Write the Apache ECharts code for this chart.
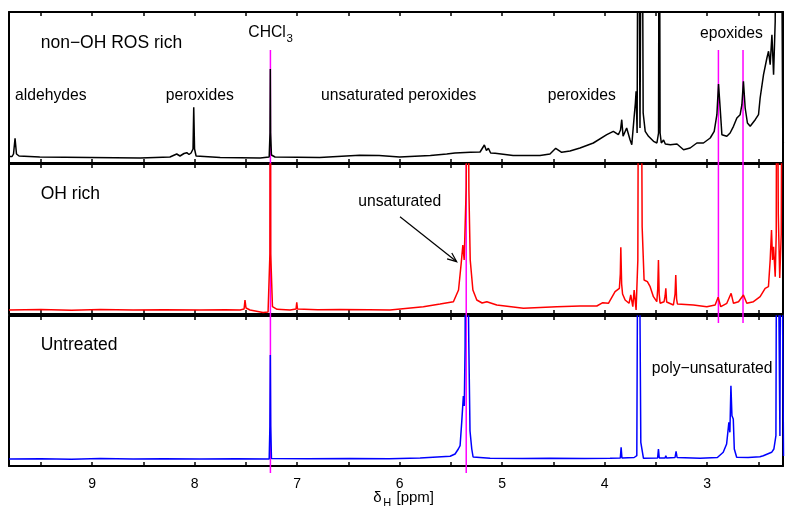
<!DOCTYPE html>
<html>
<head>
<meta charset="utf-8">
<script src="https://cdn.jsdelivr.net/npm/echarts@6/dist/echarts.min.js"></script>
<style>
  html, body { margin: 0; padding: 0; background: #fff; }
  #chart { width: 785px; height: 514px; }
</style>
</head>
<body>
<div id="chart"></div>
<script>
// 1H NMR spectra: [chemical shift (ppm), intensity (a.u.)]; intensities above the
// panel range are clipped at the panel top.
const nonOhRos = [
  [9.81,6.5],[9.78,6.5],[9.766,9],[9.751,24.7],[9.737,9],[9.712,7],[9.51,6],[9.02,5.5],
  [8.53,5],[8.24,6],[8.174,9],[8.142,7],[8.103,9.5],[8.076,10.3],[8.054,8.5],[8.034,10],
  [8.015,14],[8.008,55.7],[8.0,14],[7.985,7],[7.75,5.5],[7.36,5],[7.272,6],[7.264,30],
  [7.261,94],[7.258,30],[7.25,8],[7.215,6],[6.78,5.5],[6.39,7.7],[6.2,7.5],[6.0,6],
  [5.70,7.5],[5.54,9],[5.46,10],[5.31,10.7],[5.215,11],[5.173,18],[5.153,12.5],[5.134,14.7],
  [5.112,10],[5.068,9.7],[4.893,7.5],[4.63,7.5],[4.533,9],[4.477,14.7],[4.419,10.7],[4.338,12],
  [4.24,15],[4.11,20],[3.979,28.3],[3.915,31.7],[3.866,28.3],[3.845,33],[3.833,43.3],[3.82,26.7],
  [3.785,35],[3.752,23.3],[3.735,18.3],[3.713,45],[3.70,60],[3.693,71.7],[3.683,30],[3.672,400],
  [3.655,35],[3.637,400],[3.624,50],[3.604,31.7],[3.572,26.7],[3.523,21.7],[3.49,20],[3.474,30],
  [3.467,400],[3.459,30],[3.447,20],[3.425,23],[3.408,19],[3.359,18.3],[3.294,19],[3.23,13.3],
  [3.166,15],[3.10,20],[3.036,20],[2.97,25],[2.931,31.7],[2.905,48.3],[2.889,79],[2.873,55],
  [2.856,28.3],[2.808,26.7],[2.776,30],[2.743,36.7],[2.71,45],[2.678,48.3],[2.661,58.3],[2.646,81.7],
  [2.629,55],[2.607,40],[2.58,36.7],[2.531,43.3],[2.499,48.3],[2.483,65],[2.45,88.3],[2.417,105],
  [2.401,111.7],[2.385,98.3],[2.368,128.3],[2.352,88.3],[2.336,141.7],[2.326,400],[2.313,400],
  [2.296,200],[2.282,400],[2.266,400],[2.262,22],[2.255,20]
];

const ohRich = [
  [9.81,4],[9.5,4.5],[9.2,3.8],[8.92,4.5],[8.6,4],[8.3,4.3],[7.947,4],[7.7,4.2],[7.556,4],
  [7.517,5],[7.508,14],[7.498,6],[7.459,4],[7.332,1.5],[7.283,2],[7.265,60],[7.261,400],
  [7.257,60],[7.24,7.3],[7.195,4.7],[7.068,4],[7.01,5],[7.003,11.7],[6.996,5],[6.8,4.3],
  [6.581,4.5],[6.3,4.2],[6.093,4],[5.768,7.3],[5.605,10],[5.475,12.3],[5.425,24],[5.399,50.7],
  [5.383,69],[5.37,54],[5.35,127.3],[5.337,400],[5.324,124],[5.311,54],[5.285,24],[5.247,14],
  [5.195,11],[5.149,12.3],[5.052,9],[4.792,5.7],[4.467,7.3],[4.239,8],[4.076,8],[4.018,11.3],
  [3.963,10.7],[3.898,22.3],[3.856,25.7],[3.847,40],[3.842,66.7],[3.834,30],[3.825,20],[3.8,14],
  [3.784,15.7],[3.762,10.7],[3.745,19],[3.725,7.3],[3.712,24],[3.693,4],[3.676,54],[3.667,400],
  [3.647,400],[3.634,87.3],[3.615,34],[3.583,32.3],[3.556,27.3],[3.524,17.3],[3.491,12.3],
  [3.482,25],[3.475,54],[3.468,20],[3.459,10.7],[3.42,12.3],[3.41,18],[3.403,25.7],[3.395,12],
  [3.388,10.7],[3.329,9],[3.313,20],[3.306,39],[3.298,15],[3.29,10],[3.134,9],[3.003,7.3],
  [2.922,9],[2.893,16.7],[2.867,7.3],[2.808,10.7],[2.766,20.7],[2.743,10.7],[2.694,12.3],
  [2.646,19],[2.613,10.7],[2.548,12.3],[2.483,17.3],[2.434,25.7],[2.402,27.3],[2.385,54],
  [2.372,84],[2.362,54],[2.352,67.3],[2.336,37.3],[2.326,80],[2.319,400],[2.306,100],
  [2.292,36],[2.277,80],[2.267,400],[2.255,400]
];

const untreated = [
  [9.81,7],[9.5,7.3],[9.2,6.8],[8.92,7.5],[8.6,7],[8.3,7.2],[7.947,7],[7.6,7.3],[7.272,7],
  [7.265,40],[7.261,111],[7.257,40],[7.25,7.5],[6.9,7.2],[6.483,7.5],[6.1,7.3],[5.8,8],
  [5.507,9.7],[5.459,12],[5.427,17],[5.41,20.3],[5.394,43.7],[5.378,70],[5.369,60],[5.361,120],
  [5.352,400],[5.337,400],[5.325,123.7],[5.313,35],[5.296,17],[5.283,9],[5.117,7.7],[4.8,7.5],
  [4.532,7.7],[4.2,7.4],[3.947,7.7],[3.847,8],[3.839,18.7],[3.831,8],[3.712,8.5],[3.686,10.3],
  [3.671,400],[3.659,400],[3.647,23.7],[3.621,7.7],[3.483,8],[3.475,17],[3.467,8],[3.41,8],
  [3.403,10.3],[3.395,8],[3.313,8.5],[3.303,14.7],[3.293,8.5],[3.069,7.7],[2.9,8.5],[2.843,13.7],
  [2.81,22],[2.788,43.7],[2.778,33.7],[2.768,80.3],[2.758,50.3],[2.745,47],[2.735,17],[2.712,8.7],
  [2.6,8.5],[2.485,9.3],[2.452,10.3],[2.371,13.7],[2.349,17],[2.329,30.3],[2.319,400],[2.30,400],
  [2.29,30],[2.28,400],[2.263,400],[2.255,10]
];

const panelTitles = ['non\u2212OH ROS rich', 'OH rich', 'Untreated'];
const seriesColors = ['#000000', '#ff0000', '#0000ff'];
const refShifts = [7.26, 5.35, 2.89, 2.65];       // CHCl3, olefinic H, epoxide H
const tickValues = [2.5, 3, 3.5, 4, 4.5, 5, 5.5, 6, 6.5, 7, 7.5, 8, 8.5, 9, 9.5];
const labelValues = [3, 4, 5, 6, 7, 8, 9];
const ppmMin = 2.26, ppmMax = 9.81;

const FONT = '"Liberation Sans", Arial, sans-serif';
const spectra = [nonOhRos, ohRich, untreated];

// stacked panel layout
const panels = [
  { top: 12, height: 151 },
  { top: 164, height: 150 },
  { top: 316, height: 150 }
];
const plotLeft = 9, plotWidth = 774;

const grid = panels.map(p => ({ left: plotLeft, width: plotWidth, top: p.top, height: p.height }));
grid.push({ left: plotLeft, width: plotWidth, top: 0, height: 514 }); // overlay for reference lines

const frame = { show: true, onZero: false, lineStyle: { color: '#000', width: 2 } };
const xAxis = [], yAxis = [];
panels.forEach((p, i) => {
  ['bottom', 'top'].forEach(pos => {
    xAxis.push({
      type: 'value', gridIndex: i, position: pos, min: ppmMin, max: ppmMax, inverse: true,
      axisLine: frame,
      axisTick: { show: true, inside: true, length: 4, customValues: tickValues,
                  lineStyle: { color: '#000', width: 1.5 } },
      axisLabel: { show: i === 2 && pos === 'bottom', customValues: labelValues,
                   color: '#000', fontSize: 14, fontFamily: FONT, margin: 11 },
      splitLine: { show: false }, minorTick: { show: false }
    });
  });
  ['left', 'right'].forEach(pos => {
    yAxis.push({
      type: 'value', gridIndex: i, position: pos, min: 0, max: p.height,
      axisLine: frame, axisTick: { show: false }, axisLabel: { show: false },
      splitLine: { show: false }
    });
  });
});
xAxis.push({ type: 'value', gridIndex: 3, min: ppmMin, max: ppmMax, inverse: true, show: false });
yAxis.push({ type: 'value', gridIndex: 3, min: 0, max: 514, inverse: true, show: false });

const series = spectra.map((d, i) => ({
  type: 'line', name: panelTitles[i], xAxisIndex: 2 * i, yAxisIndex: 2 * i, data: d,
  symbol: 'none', showSymbol: false, clip: true, z: 5,
  lineStyle: { color: seriesColors[i], width: 1.5 }
}));

// vertical extents (page px) of each reference line across the stacked panels
const refSpan = { 7.26: [50, 473], 5.35: [164, 473], 2.89: [50, 323], 2.65: [50, 323] };
refShifts.forEach(s => {
  series.push({
    type: 'line', xAxisIndex: 6, yAxisIndex: 6, symbol: 'none', z: 1, silent: true,
    data: [[s, refSpan[s][0]], [s, refSpan[s][1]]],
    lineStyle: { color: '#ff00ff', width: 1.5 }
  });
});

function label(text, x, baseline, size) {
  return {
    type: 'text', x: x, y: baseline - 0.35 * size, silent: true, z: 10,
    style: { text: text, font: size + 'px ' + FONT, fill: '#000', align: 'left', verticalAlign: 'middle' }
  };
}

const graphic = [
  label(panelTitles[0], 40.7, 49, 17.5),
  label(panelTitles[1], 40.7, 200, 17.5),
  label(panelTitles[2], 40.7, 351.7, 17.5),
  label('CHCl', 248.3, 38.3, 15.7),
  label('3', 286.5, 42.7, 11.5),
  label('aldehydes', 15, 101, 15.7),
  label('peroxides', 165.7, 101, 15.7),
  label('unsaturated peroxides', 321, 101, 15.7),
  label('peroxides', 547.7, 101, 15.7),
  label('epoxides', 700, 39.3, 15.7),
  label('unsaturated', 358.3, 206.7, 15.7),
  label('poly\u2212unsaturated', 651.7, 374, 15.7),
  label('\u03B4', 373.3, 503.3, 15),
  label('H', 383.3, 506.6, 11),
  label('[ppm]', 396.5, 503.3, 15),
  { type: 'line', silent: true, z: 10,
    shape: { x1: 400, y1: 216.7, x2: 456.2, y2: 261.3 },
    style: { stroke: '#000', lineWidth: 1.2 } },
  { type: 'polyline', silent: true, z: 10,
    shape: { points: [[451.8, 253.0], [456.7, 261.7], [447.1, 258.9]] },
    style: { stroke: '#000', lineWidth: 1.2, fill: null } }
];

const chart = echarts.init(document.getElementById('chart'), null, { renderer: 'canvas' });
chart.setOption({
  animation: false,
  backgroundColor: '#fff',
  grid: grid,
  xAxis: xAxis,
  yAxis: yAxis,
  series: series,
  graphic: graphic
});
</script>
</body>
</html>
